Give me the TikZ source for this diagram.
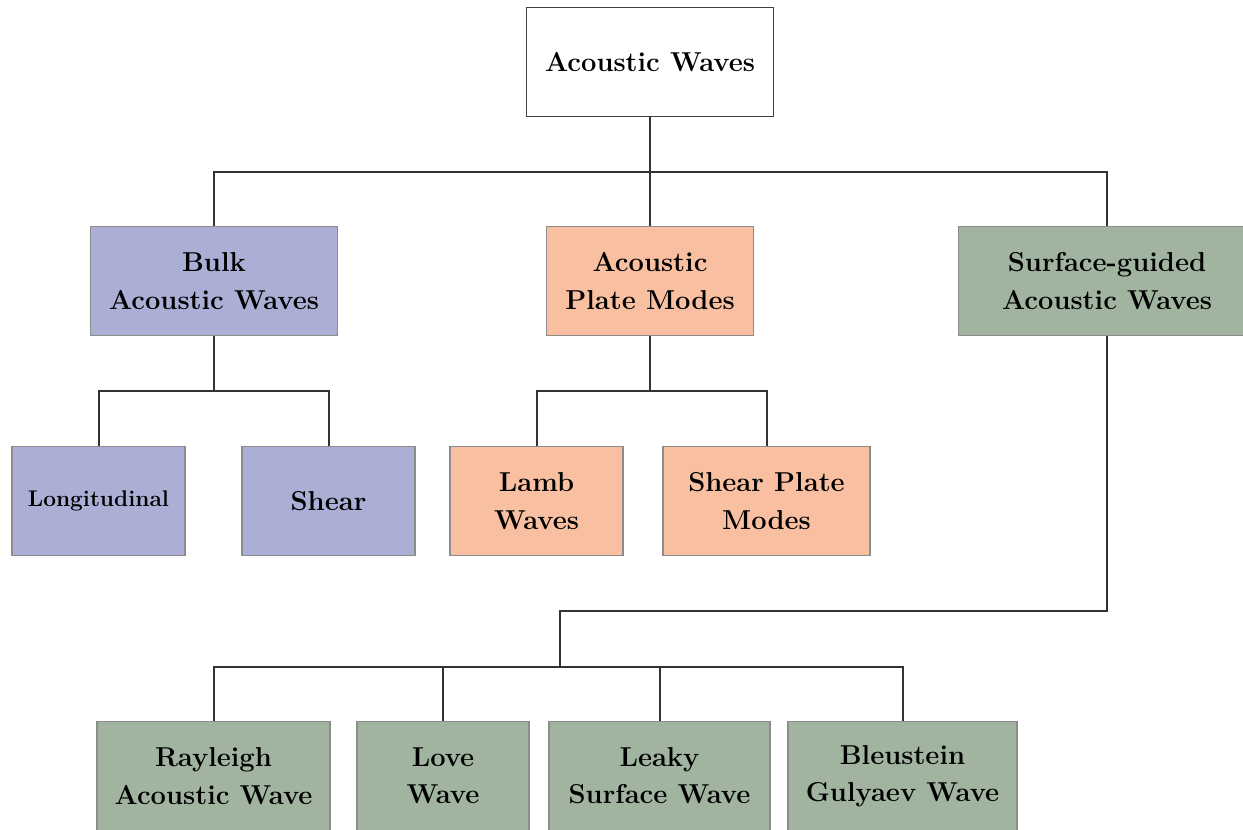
\documentclass[tikz,border=0pt]{standalone}
\begin{document}
\begin{tikzpicture}[x=0.75pt, y=-0.75pt, line width=1.4pt,
    box/.style = {draw=black!45, line width=1.1pt, minimum height=81.75pt, inner sep=0pt, align=center, font=\fontsize{20.5}{28}\selectfont\bfseries},
    bulkbox/.style = {box, fill=bulkc},
    platebox/.style = {box, fill=platec},
    surfbox/.style = {box, fill=surfc},
    link/.style = {draw=black!80, line width=1.5pt}]
    \definecolor{bulkc}{HTML}{ABAFD6}
    \definecolor{platec}{HTML}{F8C0A0}
    \definecolor{surfc}{HTML}{A0B4A0}
    \useasboundingbox (0,0) rectangle (1243,829);
    % top
    \node[box, draw=black!75, minimum width=185pt] (aw) at (650,62) {Acoustic Waves};
    % second level
    \node[bulkbox, minimum width=185pt] (bulk) at (214,281) {Bulk\\Acoustic Waves};
    \node[platebox, minimum width=155pt] (plate) at (650,281) {Acoustic\\Plate Modes};
    \node[surfbox, minimum width=223pt] (surf) at (1107,281) {Surface-guided\\Acoustic Waves};
    % third level
    \node[bulkbox, minimum width=130pt, font=\fontsize{17}{22}\selectfont\bfseries] (long) at (98.5,501) {Longitudinal};
    \node[bulkbox, minimum width=130pt] (shear) at (328.5,501) {Shear};
    \node[platebox, minimum width=130pt] (lamb) at (536.5,501) {Lamb\\Waves};
    \node[platebox, minimum width=155pt] (spm) at (766.5,501) {Shear Plate\\Modes};
    % surface waves
    \node[surfbox, minimum width=175pt] (ray) at (213.5,776) {Rayleigh\\Acoustic Wave};
    \node[surfbox, minimum width=129pt] (love) at (443,776) {Love\\Wave};
    \node[surfbox, minimum width=166pt] (leaky) at (659.5,776) {Leaky\\Surface Wave};
    \node[surfbox, minimum width=172pt] (bg) at (902.5,776) {Bleustein\\Gulyaev Wave};
    % junctions
    \coordinate (j1) at (650,172);
    \coordinate (j2) at (214,391);
    \coordinate (j3) at (650,391);
    \coordinate (j4) at (560,611);
    \coordinate (j5) at (560,667);
    % connectors
    \draw[link] (aw.south) -- (j1);
    \draw[link] (j1) -| (bulk.north);
    \draw[link] (j1) -- (plate.north);
    \draw[link] (j1) -| (surf.north);
    \draw[link] (bulk.south) -- (j2);
    \draw[link] (j2) -| (long.north);
    \draw[link] (j2) -| (shear.north);
    \draw[link] (plate.south) -- (j3);
    \draw[link] (j3) -| (lamb.north);
    \draw[link] (j3) -| (spm.north);
    \draw[link] (surf.south) |- (j4) -- (j5);
    \draw[link] (j5) -| (ray.north);
    \draw[link] (j5) -| (love.north);
    \draw[link] (j5) -| (leaky.north);
    \draw[link] (j5) -| (bg.north);
\end{tikzpicture}
\end{document}
